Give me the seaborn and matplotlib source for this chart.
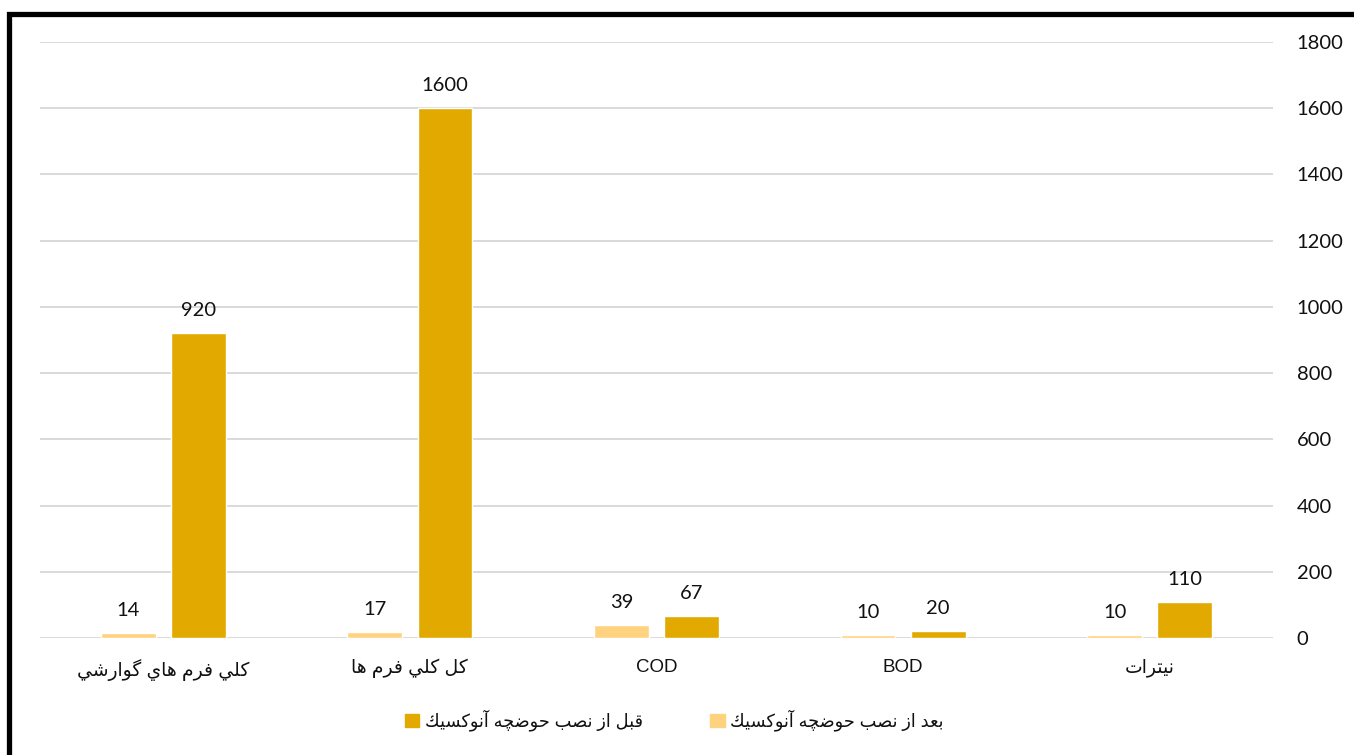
import matplotlib
matplotlib.use("Agg")
import matplotlib.pyplot as plt
from matplotlib.patches import Rectangle
import seaborn as sns
import pandas as pd

# ---- data ----
categories = ["كلي فرم هاي گوارشي", "كل كلي فرم ها", "COD", "BOD", "نيترات"]
after_values = [14, 17, 39, 10, 10]        # بعد از نصب حوضچه آنوكسيك
before_values = [920, 1600, 67, 20, 110]   # قبل از نصب حوضچه آنوكسيك
series_after = "بعد از نصب حوضچه آنوكسيك"
series_before = "قبل از نصب حوضچه آنوكسيك"
y_ticks = [0, 200, 400, 600, 800, 1000, 1200, 1400, 1600, 1800]

# ---- minimal Arabic shaping (presentation forms, visual order) ----
# char: (isolated, final, initial, medial); initial None => does not join forward
FORMS = {
    "ا": ("\uFE8D", "\uFE8E", None, None),
    "آ": ("\uFE81", "\uFE82", None, None),
    "ب": ("\uFE8F", "\uFE90", "\uFE91", "\uFE92"),
    "ت": ("\uFE95", "\uFE96", "\uFE97", "\uFE98"),
    "ح": ("\uFEA1", "\uFEA2", "\uFEA3", "\uFEA4"),
    "د": ("\uFEA9", "\uFEAA", None, None),
    "ر": ("\uFEAD", "\uFEAE", None, None),
    "ز": ("\uFEAF", "\uFEB0", None, None),
    "س": ("\uFEB1", "\uFEB2", "\uFEB3", "\uFEB4"),
    "ش": ("\uFEB5", "\uFEB6", "\uFEB7", "\uFEB8"),
    "ص": ("\uFEB9", "\uFEBA", "\uFEBB", "\uFEBC"),
    "ض": ("\uFEBD", "\uFEBE", "\uFEBF", "\uFEC0"),
    "ع": ("\uFEC9", "\uFECA", "\uFECB", "\uFECC"),
    "ف": ("\uFED1", "\uFED2", "\uFED3", "\uFED4"),
    "ق": ("\uFED5", "\uFED6", "\uFED7", "\uFED8"),
    "ك": ("\uFED9", "\uFEDA", "\uFEDB", "\uFEDC"),
    "ل": ("\uFEDD", "\uFEDE", "\uFEDF", "\uFEE0"),
    "م": ("\uFEE1", "\uFEE2", "\uFEE3", "\uFEE4"),
    "ن": ("\uFEE5", "\uFEE6", "\uFEE7", "\uFEE8"),
    "ه": ("\uFEE9", "\uFEEA", "\uFEEB", "\uFEEC"),
    "و": ("\uFEED", "\uFEEE", None, None),
    "ي": ("\uFEF1", "\uFEF2", "\uFEF3", "\uFEF4"),
    "چ": ("\uFB7A", "\uFB7B", "\uFB7C", "\uFB7D"),
    "گ": ("\uFB92", "\uFB93", "\uFB94", "\uFB95"),
}


def shape(text):
    if not any(c in FORMS for c in text):
        return text
    out = []
    n = len(text)
    for i, c in enumerate(text):
        if c not in FORMS:
            out.append(c)
            continue
        prev = text[i - 1] if i > 0 else None
        nxt = text[i + 1] if i + 1 < n else None
        jp = prev in FORMS and FORMS[prev][2] is not None
        jn = nxt in FORMS and FORMS[c][2] is not None
        iso, fin, ini, med = FORMS[c]
        if jp and jn:
            out.append(med)
        elif jp:
            out.append(fin)
        elif jn:
            out.append(ini)
        else:
            out.append(iso)
    return "".join(reversed(out))


# ---- style ----
sns.set_style("white")
plt.rcParams["font.family"] = ["Lato", "DejaVu Sans"]

DARK = "#E2AA00"
LIGHT = "#FFD280"
GRID = "#D9D9D9"
TXT = "#111111"

df = pd.DataFrame({
    "cat": categories * 2,
    "val": after_values + before_values,
    "series": [series_after] * len(categories) + [series_before] * len(categories),
})

fig = plt.figure(figsize=(13.54, 7.55), dpi=100)
ax = fig.add_axes([0.0295, 0.155, 0.9107, 0.7894])

sns.barplot(data=df, x="cat", y="val", hue="series", order=categories,
            hue_order=[series_after, series_before],
            palette=[LIGHT, DARK], width=0.57, gap=0.22, ax=ax,
            legend=False, saturation=1)

for cont in ax.containers:
    ax.bar_label(cont, fmt="%d", padding=10, fontsize=14.5, family=["Lato", "DejaVu Sans"],
                 color=TXT)

ax.set_ylim(0, 1800)
ax.set_yticks(y_ticks)
ax.yaxis.tick_right()
ax.tick_params(axis="y", length=0, pad=17, labelsize=14.5, colors=TXT)
ax.tick_params(axis="x", length=0, pad=15)
ax.set_xticks(range(len(categories)))
ax.set_xticklabels([shape(c) for c in categories], fontsize=13.5,
                   family=["Liberation Sans", "DejaVu Sans"], color=TXT)
ax.set_xlim(-0.5, len(categories) - 0.5)
ax.set_xlabel("")
ax.set_ylabel("")
ax.grid(axis="y", color=GRID, linewidth=1.4)
ax.set_axisbelow(True)
for s in ax.spines.values():
    s.set_visible(False)

handles = [Rectangle((0, 0), 1, 1, color=DARK), Rectangle((0, 0), 1, 1, color=LIGHT)]
fig.legend(handles, [shape(series_before), shape(series_after)], loc="center",
           bbox_to_anchor=(0.498, 0.046), ncol=2, frameon=False,
           prop={"family": ["Liberation Sans", "DejaVu Sans"], "size": 12.8},
           labelcolor=TXT,
           handlelength=0.8, handleheight=0.8, handletextpad=0.3, columnspacing=3.8)

# figure border (top & left visible, right/bottom run off canvas)
fig.patches.append(Rectangle((0.0066, -0.05), 1.1, 1.032, transform=fig.transFigure,
                             fill=False, edgecolor="black", linewidth=3.8))

fig.savefig("out.png", dpi=100)
